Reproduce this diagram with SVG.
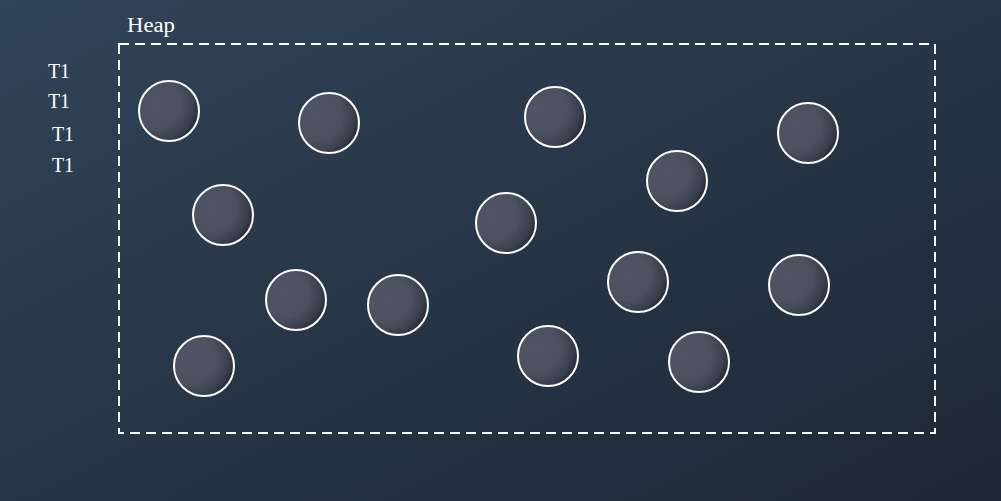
<svg xmlns="http://www.w3.org/2000/svg" width="1001" height="501" viewBox="0 0 1001 501">
<defs>
<linearGradient id="bg" x1="0" y1="0" x2="1" y2="1">
<stop offset="0" stop-color="#304459"/>
<stop offset="1" stop-color="#1e2735"/>
</linearGradient>
<radialGradient id="ball" cx="0.3" cy="0.38" r="0.75">
<stop offset="0" stop-color="#505665"/>
<stop offset="0.55" stop-color="#4b515f"/>
<stop offset="0.82" stop-color="#3a3f4d"/>
<stop offset="1" stop-color="#222634"/>
</radialGradient>
<style>
.lbl{font-family:"Liberation Serif","DejaVu Serif",serif;font-size:20px;fill:#ffffff}
.obj{fill:url(#ball);stroke:#ffffff;stroke-width:2}
.heap{fill:none;stroke:#ffffff;stroke-width:2;stroke-dasharray:10 6}
</style>
</defs>
<rect width="1001" height="501" fill="url(#bg)"/>
<g id="heap">
<rect class="heap" x="119" y="44" width="816" height="389"/>
<text class="lbl" x="127" y="32" textLength="48" lengthAdjust="spacingAndGlyphs">Heap</text>
</g>
<g id="threads">
<text class="lbl" x="48" y="78" textLength="22" lengthAdjust="spacingAndGlyphs">T1</text>
<text class="lbl" x="48" y="108" textLength="22" lengthAdjust="spacingAndGlyphs">T1</text>
<text class="lbl" x="52" y="141" textLength="22" lengthAdjust="spacingAndGlyphs">T1</text>
<text class="lbl" x="52" y="172" textLength="22" lengthAdjust="spacingAndGlyphs">T1</text>
</g>
<g id="objects">
<circle id="o1" class="obj" cx="169" cy="111" r="30"/>
<circle id="o2" class="obj" cx="329" cy="123" r="30"/>
<circle id="o3" class="obj" cx="555" cy="117" r="30"/>
<circle id="o4" class="obj" cx="808" cy="133" r="30"/>
<circle id="o5" class="obj" cx="677" cy="181" r="30"/>
<circle id="o6" class="obj" cx="223" cy="215" r="30"/>
<circle id="o7" class="obj" cx="506" cy="223" r="30"/>
<circle id="o8" class="obj" cx="296" cy="300" r="30"/>
<circle id="o9" class="obj" cx="398" cy="305" r="30"/>
<circle id="o10" class="obj" cx="638" cy="282" r="30"/>
<circle id="o11" class="obj" cx="799" cy="285" r="30"/>
<circle id="o12" class="obj" cx="204" cy="366" r="30"/>
<circle id="o13" class="obj" cx="548" cy="356" r="30"/>
<circle id="o14" class="obj" cx="699" cy="362" r="30"/>
</g>
<g id="connectors"/>
</svg>
